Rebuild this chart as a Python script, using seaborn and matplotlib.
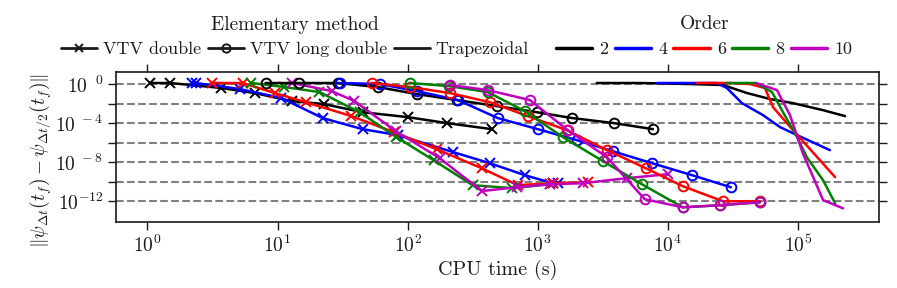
import numpy as np
import matplotlib
matplotlib.use("Agg")
import matplotlib.pyplot as plt
import matplotlib.ticker as mticker
from matplotlib.lines import Line2D
import seaborn as sns

# ---- data (CPU time in s, error norm) ----
orders = [2, 4, 6, 8, 10]
methods = ["VTV double", "VTV long double", "Trapezoidal"]

dbl2_t = [1.05, 1.5, 3.7, 6.65, 12.8, 22.6, 45, 100, 200, 443]
dbl2_e = [1.27, 1.27, 0.39, 0.12, 1.8e-2, 8.9e-3, 1.3e-3, 4.1e-4, 1.0e-4, 2.4e-5]
dbl4_t = [2.2, 2.35, 5.1, 10.7, 22.2, 45, 84, 222, 427, 794, 1300, 1430]
dbl4_e = [1.27, 1.27, 0.31, 3.7e-2, 3.3e-4, 2.4e-5, 5.9e-6, 1.1e-7, 7.9e-9, 4.7e-10, 7.0e-11, 7.0e-11]
dbl6_t = [3.16, 5.4, 9.5, 16.4, 37, 78, 167, 371, 701, 1300, 2420]
dbl6_e = [1.27, 1.27, 0.12, 1.4e-2, 5.2e-4, 1.2e-5, 2.1e-7, 2.4e-9, 4.4e-11, 7.0e-11, 8.9e-11]
dbl8_t = [6.3, 11.3, 21, 42.7, 82, 158, 316, 631, 1240]
dbl8_e = [1.27, 0.49, 0.15, 1.3e-3, 3.7e-6, 1.6e-8, 4.4e-11, 2.2e-11, 5.5e-11]
dbl10_t = [13, 26, 39, 81, 176, 371, 689, 1240, 2220, 4840, 10000]
dbl10_e = [1.27, 0.19, 1.8e-2, 1.5e-5, 2.6e-8, 1.1e-11, 2.7e-11, 5.5e-11, 7.0e-11, 2.3e-10, 5.9e-10]

ldbl2_t = [8.1, 14.5, 29, 59, 117, 238, 484, 982, 1830, 3840, 7670]
ldbl2_e = [1.27, 1.27, 1.27, 0.49, 9.4e-2, 2.3e-2, 5.5e-3, 1.3e-3, 3.3e-4, 1.0e-4, 2.4e-5]
ldbl4_t = [30, 61, 117, 243, 492, 1000, 2000, 3780, 7530, 15300, 30500]
ldbl4_e = [1.27, 1.0, 0.19, 2.3e-2, 3.3e-4, 2.4e-5, 1.8e-6, 1.3e-7, 7.9e-9, 4.7e-10, 2.7e-11]
ldbl6_t = [52.8, 105, 210, 427, 838, 1670, 3400, 6770, 13000, 26500, 51000]
ldbl6_e = [1.27, 0.49, 0.12, 1.4e-2, 5.2e-4, 1.9e-5, 1.7e-7, 2.4e-9, 3.5e-11, 1.0e-12, 1.0e-12]
ldbl8_t = [104, 207, 412, 794, 1560, 3160, 6310, 13000, 25100, 51000]
ldbl8_e = [1.27, 0.62, 0.15, 1.7e-3, 3.7e-6, 1.3e-8, 5.5e-11, 2.4e-13, 3.9e-13, 7.9e-13]
ldbl10_t = [210, 412, 868, 1700, 3400, 6650, 13000, 25100, 51000]
ldbl10_e = [0.79, 0.24, 2.3e-2, 1.9e-5, 3.2e-8, 1.6e-12, 2.4e-13, 3.9e-13, 7.9e-13]

trap2_t = [2840, 6090, 14800, 26500, 40500, 61000, 91600, 156000, 230000]
trap2_e = [1.27, 1.27, 1.0, 0.79, 0.12, 2.9e-2, 1.1e-2, 2.1e-3, 5.2e-4]
trap4_t = [8230, 14800, 23800, 28400, 37100, 53800, 72800, 98300, 176000]
trap4_e = [1.27, 1.27, 1.27, 0.39, 1.1e-2, 6.6e-4, 3.9e-5, 5.9e-6, 1.7e-7]
trap6_t = [16700, 30000, 42700, 55700, 64200, 91600, 193000]
trap6_e = [1.27, 1.27, 1.0, 0.39, 4.4e-3, 1.9e-5, 2.9e-10]
trap8_t = [28400, 47500, 63100, 76700, 98300, 117000, 156000, 193000]
trap8_e = [1.27, 1.27, 0.15, 1.3e-3, 3.7e-6, 3.2e-8, 1.4e-10, 6.2e-13]
trap10_t = [47500, 68900, 86800, 109000, 156000, 222000]
trap10_e = [1.27, 0.24, 6.6e-4, 8.3e-8, 1.3e-12, 1.9e-13]

series = {
    "VTV double": [(dbl2_t, dbl2_e), (dbl4_t, dbl4_e), (dbl6_t, dbl6_e), (dbl8_t, dbl8_e), (dbl10_t, dbl10_e)],
    "VTV long double": [(ldbl2_t, ldbl2_e), (ldbl4_t, ldbl4_e), (ldbl6_t, ldbl6_e), (ldbl8_t, ldbl8_e), (ldbl10_t, ldbl10_e)],
    "Trapezoidal": [(trap2_t, trap2_e), (trap4_t, trap4_e), (trap6_t, trap6_e), (trap8_t, trap8_e), (trap10_t, trap10_e)],
}

colors = ["#000000", "#0000ff", "#ff0000", "#008000", "#bf00bf"]
marks = {"VTV double": "x", "VTV long double": "o", "Trapezoidal": None}

sns.set_theme(style="ticks")
plt.rcParams["font.family"] = "serif"
plt.rcParams["font.serif"] = ["cmr10"]
plt.rcParams["mathtext.fontset"] = "cm"
plt.rcParams["axes.formatter.use_mathtext"] = True
plt.rcParams["axes.unicode_minus"] = False
plt.rcParams["text.color"] = "k"
plt.rcParams["axes.labelcolor"] = "k"
plt.rcParams["xtick.color"] = "k"
plt.rcParams["ytick.color"] = "k"

fig = plt.figure(figsize=(8.97, 2.88), dpi=100)
ax = fig.add_axes([0.129, 0.230, 0.851, 0.521])

for m in methods:
    for (t, e), c in zip(series[m], colors):
        sns.lineplot(x=t, y=e, ax=ax, color=c, marker=marks[m],
                     markersize=7, mfc="none", mec=c, mew=1.4, lw=1.8,
                     estimator=None, sort=False, legend=False)

ax.set_xscale("log")
ax.set_yscale("log")
ax.set_xlim(0.57, 4.2e5)
ax.set_ylim(10**-14.1, 10**1.26)

yt = [1e0, 1e-2, 1e-4, 1e-6, 1e-8, 1e-10, 1e-12]
ax.set_yticks(yt)
ax.set_yticklabels([r"$10^{\ \ 0}$", "", r"$10^{\ -4}$", "", r"$10^{\ -8}$", "", r"$10^{-12}$"])
ax.xaxis.set_major_locator(mticker.LogLocator(base=10, numticks=10))
ax.xaxis.set_minor_locator(mticker.NullLocator())
ax.yaxis.set_minor_locator(mticker.NullLocator())
ax.tick_params(which="both", direction="out", top=True, right=True, labeltop=False,
               length=6, width=1, labelsize=14, colors="k", pad=3)
ax.yaxis.grid(True, linestyle="--", color="gray", lw=1.5)
ax.xaxis.grid(False)
ax.set_axisbelow(True)
for s in ax.spines.values():
    s.set_color("k")
    s.set_linewidth(1.2)

ax.set_xlabel("CPU time (s)", fontsize=14.5, labelpad=3, color="k")
ax.set_ylabel(r"$\Vert\psi_{\Delta t}(t_f) - \psi_{\Delta t/2}(t_f)\Vert$", fontsize=14, color="k")
ax.yaxis.set_label_coords(-0.082, 0.41)

h1 = [Line2D([], [], color="k", lw=2, marker=marks[m],
             markersize=6, mfc="none", mew=1.4) for m in methods]
h2 = [Line2D([], [], color=c, lw=2.5) for c in colors]
fig.legend(h1, methods, title="Elementary method", loc="upper center",
           bbox_to_anchor=(0.329, 0.99), ncol=3, frameon=False, fontsize=13,
           title_fontsize=14, handletextpad=0.3, columnspacing=0.4,
           handlelength=2.0, borderpad=0.2, labelspacing=0.45)
fig.legend(h2, [str(o) for o in orders], title="Order", loc="upper center",
           bbox_to_anchor=(0.785, 0.99), ncol=5, frameon=False, fontsize=13,
           title_fontsize=14, handletextpad=0.4, columnspacing=0.35,
           handlelength=2.0, borderpad=0.2, labelspacing=0.45)

fig.savefig("out.png", dpi=100)
